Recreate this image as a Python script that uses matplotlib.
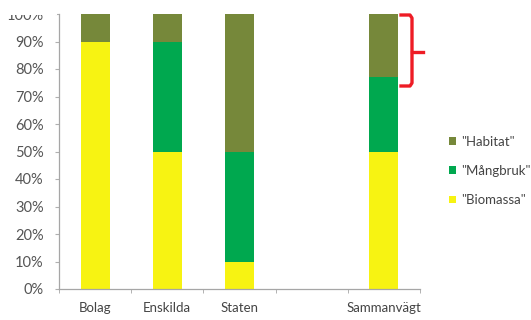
import matplotlib
matplotlib.use("Agg")
import matplotlib.pyplot as plt
from matplotlib.lines import Line2D
from matplotlib.patches import Patch, Rectangle
import numpy as np

plt.rcParams['font.family'] = ['Lato', 'DejaVu Sans']

categories = ["Bolag", "Enskilda", "Staten", "", "Sammanvägt"]
biomassa = [90, 50, 10, 0, 50]
mangbruk = [0, 40, 40, 0, 27]
habitat = [10, 10, 50, 0, 23]
series_names = ['"Biomassa"', '"Mångbruk"', '"Habitat"']
colors = ["#F7F312", "#00A84F", "#76883A"]

W, H = 531, 320
fig = plt.figure(figsize=(W / 100, H / 100), dpi=100)
ax = fig.add_axes([59 / W, 31 / H, 361 / W, 275 / H])

x = np.arange(len(categories))
bw = 0.40
b1 = np.array(biomassa)
b2 = b1 + np.array(mangbruk)
ax.bar(x, biomassa, bw, color=colors[0], linewidth=0)
ax.bar(x, mangbruk, bw, bottom=b1, color=colors[1], linewidth=0)
ax.bar(x, habitat, bw, bottom=b2, color=colors[2], linewidth=0)

ax.set_xlim(-0.5, len(categories) - 0.5)
ax.set_ylim(0, 100)
ax.set_yticks(np.arange(0, 101, 10))
ax.set_yticklabels([f"{v}%" for v in range(0, 101, 10)])
ax.set_xticks(x)
ax.set_xticklabels(categories)
ax.tick_params(axis='y', labelsize=10.5, colors="#b0b0b0", labelcolor="#555555",
               length=3, pad=8)
ax.tick_params(axis='x', labelsize=9.5, labelcolor="#444444", length=0, pad=9)
for s in ["top", "right"]:
    ax.spines[s].set_visible(False)
for s in ["left", "bottom"]:
    ax.spines[s].set_color("#a6a6a6")
    ax.spines[s].set_linewidth(0.9)
ax.set_xticks(np.arange(-0.5, len(categories), 1), minor=True)
ax.tick_params(axis='x', which='minor', length=3, colors="#a6a6a6")

def fx(px):
    return px / W

def fy(py):
    return 1 - py / H

# the chart area ends at the 100% line: blank strip over the top
fig.add_artist(Rectangle((0, fy(14.5)), fx(57), 1 - fy(14.5), transform=fig.transFigure,
                         facecolor='white', edgecolor='none', zorder=10))

handles = [Patch(facecolor=colors[i], edgecolor='none') for i in (2, 1, 0)]
labels = [series_names[i] for i in (2, 1, 0)]
fig.legend(handles, labels, loc='upper left', bbox_to_anchor=(fx(437), fy(124)),
           frameon=False, fontsize=9.5, handlelength=0.55, handleheight=0.55,
           handletextpad=0.35, labelspacing=1.3, labelcolor="#444444")

# red bracket beside the last bar
red = "#EE1C25"
fig.add_artist(Line2D([fx(v) for v in [401, 410, 412, 412, 410, 401]],
                      [fy(v) for v in [15, 15, 18, 83, 86, 86]],
                      color=red, linewidth=2.4, solid_joinstyle='round'))
fig.add_artist(Line2D([fx(412), fx(423)], [fy(52), fy(52)],
                      color=red, linewidth=2.4))

fig.savefig("out.png", dpi=100)
